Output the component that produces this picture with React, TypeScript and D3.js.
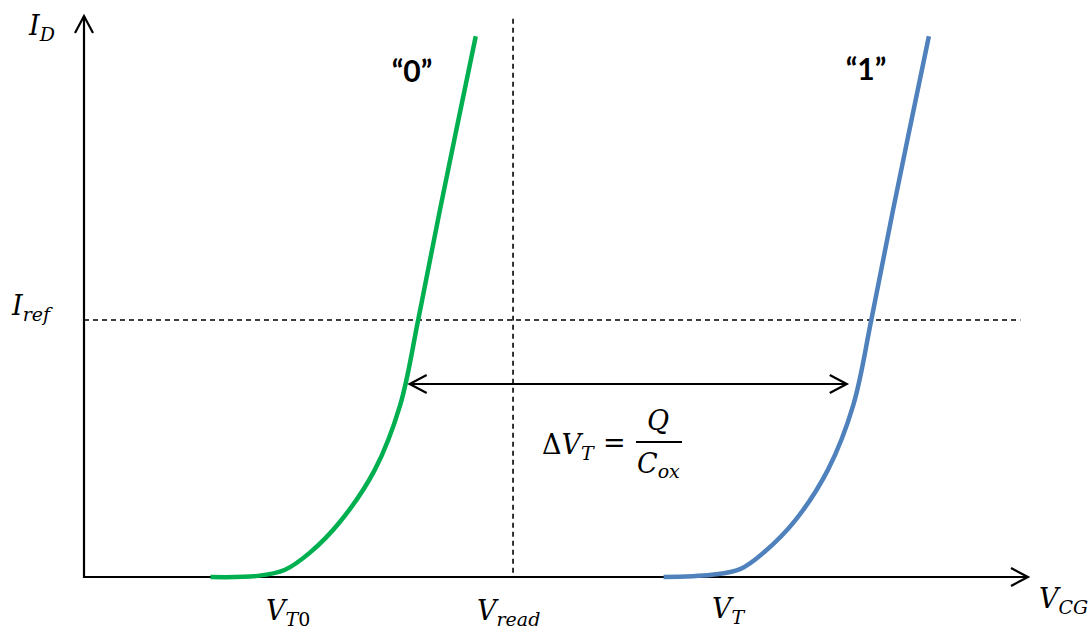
import React from "react";
import * as d3 from "d3";

// Gate voltage (arb. units) vs drain current (arb. units)
const vg0 = [1.34, 1.84, 2.13, 2.39, 2.71, 3.08, 3.35, 3.54, 3.77, 4.15];
const id0 = [0, 0.02, 0.13, 0.43, 0.98, 1.91, 3.07, 4.58, 6.54, 9.64];
const vg1 = [6.14, 6.65, 6.95, 7.21, 7.53, 7.88, 8.15, 8.34, 8.57, 8.95];
const id1 = [0, 0.04, 0.14, 0.45, 1.0, 1.91, 3.07, 4.58, 6.54, 9.64];

const iRef = 4.58;
const vRead = 4.545;
const deltaArrow = [3.45, 8.08];
const deltaLevel = 3.44;
const xMax = 10;
const yMax = 10;

const W = 1088;
const H = 630;
const mathFont = "'DejaVu Serif', 'Liberation Serif', serif";
const big = 27;
const sub = 19;

const App = () => {
  const x = d3.scaleLinear().domain([0, xMax]).range([84, 1028]);
  const y = d3.scaleLinear().domain([0, yMax]).range([577, 16]);

  const line = d3
    .line<[number, number]>()
    .x((d) => x(d[0]))
    .y((d) => y(d[1]))
    .curve(d3.curveCatmullRom.alpha(0.5));

  const green = vg0.map((v, i) => [v, id0[i]] as [number, number]);
  const blue = vg1.map((v, i) => [v, id1[i]] as [number, number]);

  const x0 = x(0);
  const y0 = y(0);
  const ah = 17; // arrow head length
  const aw = 9;

  const ya = y(deltaLevel);
  const xl = x(deltaArrow[0]);
  const xr = x(deltaArrow[1]);

  return (
    <div style={{ position: "absolute", left: 0, top: 0 }}>
      <svg width={W} height={H} style={{ display: "block", background: "#fff" }}>
        {/* dashed guides */}
        <line x1={x0} x2={x(9.92)} y1={y(iRef)} y2={y(iRef)} stroke="#000" strokeWidth={1.6} strokeDasharray="5,4" />
        <line x1={x(vRead)} x2={x(vRead)} y1={y(9.95)} y2={y0} stroke="#000" strokeWidth={1.6} strokeDasharray="5,4" />

        {/* axes */}
        <g stroke="#000" strokeWidth={2.2} fill="none">
          <line x1={x0} x2={x0} y1={y0 + 1} y2={y(yMax)} />
          <polyline points={`${x0 - aw},${y(yMax) + ah} ${x0},${y(yMax)} ${x0 + aw},${y(yMax) + ah}`} />
          <line x1={x0 - 1} x2={x(xMax)} y1={y0} y2={y0} />
          <polyline points={`${x(xMax) - ah},${y0 - aw} ${x(xMax)},${y0} ${x(xMax) - ah},${y0 + aw}`} />
        </g>

        {/* curves */}
        <path d={line(green) || ""} fill="none" stroke="#00B050" strokeWidth={4.5} />
        <path d={line(blue) || ""} fill="none" stroke="#4F81BD" strokeWidth={4.5} />

        {/* delta VT double arrow */}
        <g stroke="#000" strokeWidth={2.2} fill="none">
          <line x1={xl} x2={xr} y1={ya} y2={ya} />
          <polyline points={`${xl + ah},${ya - aw} ${xl},${ya} ${xl + ah},${ya + aw}`} />
          <polyline points={`${xr - ah},${ya - aw} ${xr},${ya} ${xr - ah},${ya + aw}`} />
        </g>

        {/* state labels */}
        <g fontFamily="Lato, 'Open Sans', sans-serif" fontWeight="bold" fontSize={30} fill="#000" textAnchor="middle">
          <text x={412} y={82}>“0”</text>
          <text x={866} y={80}>“1”</text>
        </g>

        {/* math labels */}
        <g fontFamily={mathFont} fontStyle="italic" fontSize={big} fill="#000">
          <text x={29} y={35}>
            I<tspan fontSize={sub} dy={6}>D</tspan>
          </text>
          <text x={12} y={315}>
            I<tspan fontSize={sub} dy={6}>ref</tspan>
          </text>
          <text x={266} y={620}>
            V<tspan fontSize={sub} dy={6}>T</tspan><tspan fontSize={sub} fontStyle="normal">0</tspan>
          </text>
          <text x={477} y={620}>
            V<tspan fontSize={sub} dy={6}>read</tspan>
          </text>
          <text x={712} y={618}>
            V<tspan fontSize={sub} dy={6}>T</tspan>
          </text>
          <text x={1039} y={608}>
            V<tspan fontSize={sub} dy={6}>CG</tspan>
          </text>

          <text x={542} y={454}>
            <tspan fontStyle="normal">Δ</tspan>V<tspan fontSize={sub} dy={6}>T</tspan>
          </text>
          <text x={603} y={452} fontStyle="normal">=</text>
          <text x={658} y={430} textAnchor="middle">Q</text>
          <text x={637} y={473}>
            C<tspan fontSize={sub} dy={5}>ox</tspan>
          </text>
        </g>
        <line x1={636} x2={682} y1={442} y2={442} stroke="#000" strokeWidth={2} />
      </svg>
    </div>
  );
};

export default App;
